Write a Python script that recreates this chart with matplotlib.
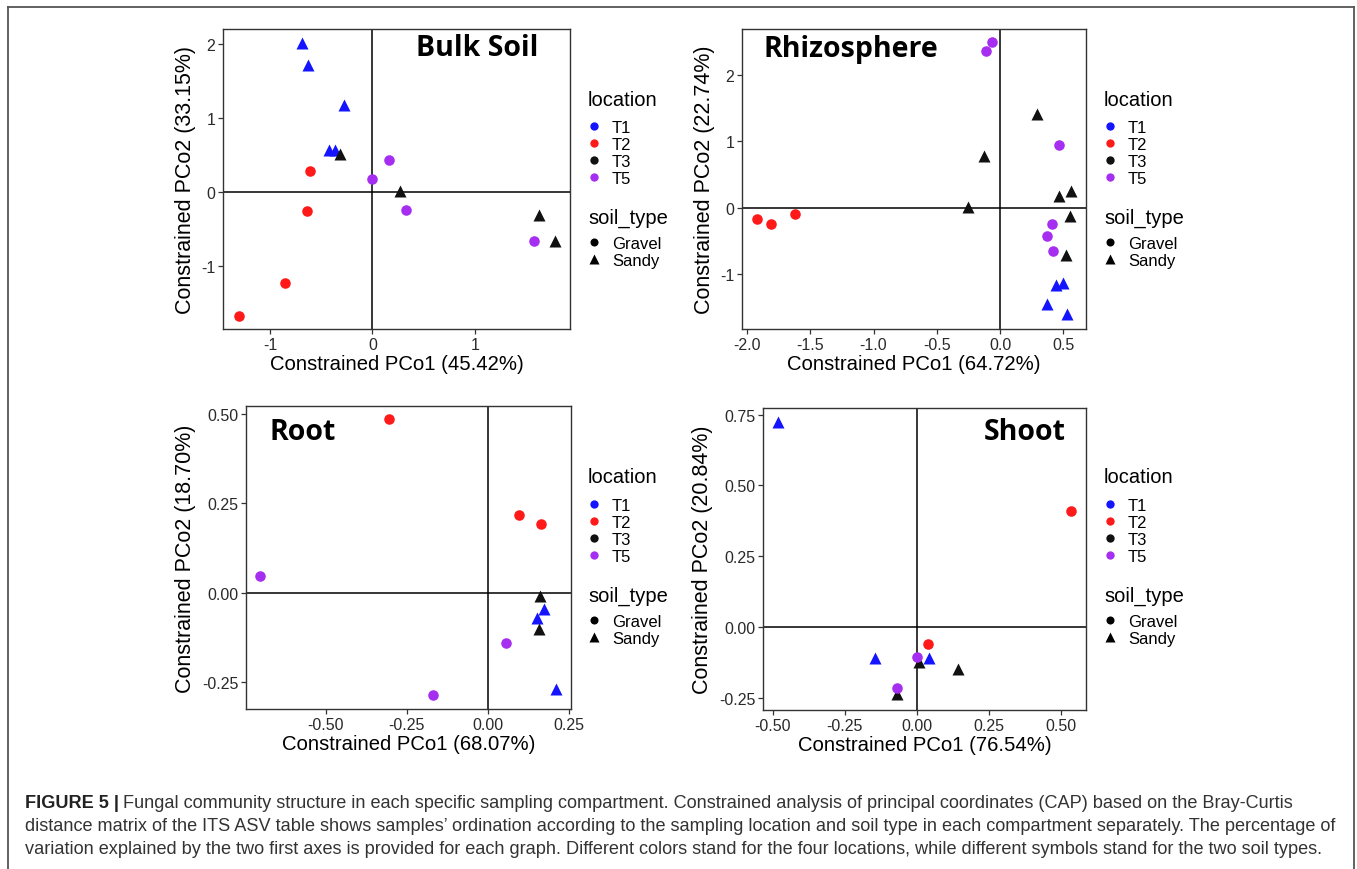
import matplotlib
matplotlib.use("Agg")
from matplotlib import pyplot as plt
from matplotlib.lines import Line2D

# colours by location, marker by soil type
LOC_COLORS = {"T1": "#1414ff", "T2": "#ff1a1a", "T3": "#111111", "T5": "#a52ef0"}
SOIL_MARKERS = {"Gravel": "o", "Sandy": "^"}
LOCATIONS = ["T1", "T2", "T3", "T5"]
SOILS = ["Gravel", "Sandy"]

# Bulk Soil
bulk_x = [-0.69, -0.63, -0.28, -0.42, -0.37, -0.32, 0.27, 1.63, 1.78,
          -0.61, -0.64, -0.85, -1.30, 0.16, 0.00, 0.33, 1.58]
bulk_y = [2.02, 1.72, 1.18, 0.57, 0.57, 0.52, 0.01, -0.32, -0.67,
          0.28, -0.26, -1.24, -1.69, 0.43, 0.17, -0.24, -0.66]
bulk_loc = ["T1", "T1", "T1", "T1", "T1", "T3", "T3", "T3", "T3",
            "T2", "T2", "T2", "T2", "T5", "T5", "T5", "T5"]

# Rhizosphere
rhizo_x = [-0.06, -0.11, 0.47, 0.41, 0.37, 0.42,
           0.29, -0.13, 0.47, 0.56, -0.25, 0.55, 0.52,
           0.44, 0.50, 0.37, 0.53,
           -1.92, -1.81, -1.62]
rhizo_y = [2.50, 2.36, 0.94, -0.25, -0.43, -0.65,
           1.41, 0.78, 0.17, 0.25, 0.01, -0.13, -0.72,
           -1.17, -1.14, -1.45, -1.61,
           -0.17, -0.25, -0.10]
rhizo_loc = ["T5", "T5", "T5", "T5", "T5", "T5",
             "T3", "T3", "T3", "T3", "T3", "T3", "T3",
             "T1", "T1", "T1", "T1",
             "T2", "T2", "T2"]

# Root
root_x = [-0.305, 0.098, 0.165, -0.702, 0.057, -0.169,
          0.162, 0.159, 0.175, 0.152, 0.212]
root_y = [0.485, 0.218, 0.191, 0.046, -0.140, -0.286,
          -0.008, -0.102, -0.044, -0.071, -0.268]
root_loc = ["T2", "T2", "T2", "T5", "T5", "T5",
            "T3", "T3", "T1", "T1", "T1"]

# Shoot
shoot_x = [-0.483, -0.145, 0.043, 0.536, 0.040, 0.000, -0.068,
           0.008, 0.143, -0.068]
shoot_y = [0.724, -0.108, -0.108, 0.409, -0.060, -0.105, -0.213,
           -0.121, -0.148, -0.235]
shoot_loc = ["T1", "T1", "T1", "T2", "T2", "T5", "T5",
             "T3", "T3", "T3"]

# soil type follows location in this dataset
SOIL_OF = {"T1": "Sandy", "T3": "Sandy", "T2": "Gravel", "T5": "Gravel"}

W, H = 1357, 870


def px_box(left, top, right, bottom):
    return [left / W, 1 - bottom / H, (right - left) / W, (bottom - top) / H]


def fy(y):
    return 1 - y / H


def draw_panel(fig, box, xs, ys, locs, xlim, ylim, xticks, yticks, xfmt, yfmt,
               xlabel, ylabel, name, name_xy, leg_x, leg_y):
    ax = fig.add_axes(px_box(*box))
    ax.axhline(0, color="black", lw=1.1, zorder=1)
    ax.axvline(0, color="black", lw=1.1, zorder=1)
    for loc in LOCATIONS:
        for soil in SOILS:
            px = [x for x, l in zip(xs, locs) if l == loc and SOIL_OF[l] == soil]
            py = [y for y, l in zip(ys, locs) if l == loc and SOIL_OF[l] == soil]
            if not px:
                continue
            ms = 8.6 if soil == "Sandy" else 7.6
            ax.plot(px, py, linestyle="none", marker=SOIL_MARKERS[soil],
                    ms=ms, color=LOC_COLORS[loc], mec="none", zorder=3)
    ax.set_xlim(*xlim)
    ax.set_ylim(*ylim)
    ax.set_xticks(xticks)
    ax.set_yticks(yticks)
    ax.set_xticklabels([xfmt.format(v) for v in xticks])
    ax.set_yticklabels([yfmt.format(v) for v in yticks])
    for s in ax.spines.values():
        s.set_color("#333333")
        s.set_linewidth(1.0)
    ax.tick_params(length=3.5, width=0.9, color="#333333", labelsize=11.5,
                   labelcolor="#2a2a2a", pad=2)
    ax.set_xlabel(xlabel, fontsize=14.6, labelpad=2)
    ax.set_ylabel(ylabel, fontsize=15.5, labelpad=4)

    fig.text(name_xy[0] / W, fy(name_xy[1]), name, family="Open Sans",
             fontweight="bold", fontsize=20.5, ha="left", va="center")

    # legend titles as plain text, entries as legends
    fig.text((leg_x + 2) / W, fy(leg_y), "location", fontsize=14.5,
             ha="left", va="center")
    fig.text((leg_x + 2) / W, fy(leg_y + 118), "soil_type", fontsize=14.5,
             ha="left", va="center")
    loc_handles = [Line2D([], [], linestyle="none", marker="o", ms=6,
                          color=LOC_COLORS[l], mec="none") for l in LOCATIONS]
    soil_handles = [Line2D([], [], linestyle="none", marker=SOIL_MARKERS[s],
                           ms=7 if s == "Sandy" else 5.8, color="black", mec="none")
                    for s in SOILS]
    common = dict(loc="upper left", bbox_transform=fig.transFigure, frameon=False,
                  fontsize=12, borderpad=0, borderaxespad=0,
                  handlelength=1.0, handletextpad=0.55, labelspacing=0.12)
    lg1 = ax.legend(loc_handles, LOCATIONS,
                    bbox_to_anchor=(leg_x / W, fy(leg_y + 21)), **common)
    ax.add_artist(lg1)
    ax.legend(soil_handles, SOILS,
              bbox_to_anchor=(leg_x / W, fy(leg_y + 137)), **common)
    return ax


plt.rcParams["font.family"] = ["Liberation Sans", "DejaVu Sans"]
fig = plt.figure(figsize=(W / 100, H / 100), dpi=100)

draw_panel(fig, (223, 30, 570, 330), bulk_x, bulk_y, bulk_loc,
           (-1.46, 1.93), (-1.86, 2.21), [-1, 0, 1], [-1, 0, 1, 2],
           "{:g}", "{:g}",
           "Constrained PCo1 (45.42%)", "Constrained PCo2 (33.15%)",
           "Bulk Soil", (416, 48), 586, 100)
draw_panel(fig, (742, 30, 1086, 330), rhizo_x, rhizo_y, rhizo_loc,
           (-2.04, 0.68), (-1.83, 2.69), [-2.0, -1.5, -1.0, -0.5, 0.0, 0.5],
           [-1, 0, 1, 2], "{:.1f}", "{:g}",
           "Constrained PCo1 (64.72%)", "Constrained PCo2 (22.74%)",
           "Rhizosphere", (764, 50), 1102, 100)
draw_panel(fig, (246, 407, 571, 710), root_x, root_y, root_loc,
           (-0.746, 0.257), (-0.324, 0.521), [-0.5, -0.25, 0.0, 0.25],
           [-0.25, 0.0, 0.25, 0.5], "{:.2f}", "{:.2f}",
           "Constrained PCo1 (68.07%)", "Constrained PCo2 (18.70%)",
           "Root", (269, 433), 586, 478)
draw_panel(fig, (763, 409, 1086, 711), shoot_x, shoot_y, shoot_loc,
           (-0.534, 0.587), (-0.292, 0.773), [-0.5, -0.25, 0.0, 0.25, 0.5],
           [-0.25, 0.0, 0.25, 0.5, 0.75], "{:.2f}", "{:.2f}",
           "Constrained PCo1 (76.54%)", "Constrained PCo2 (20.84%)",
           "Shoot", (984, 433), 1102, 478)

# outer frame (open at bottom)
frame = dict(color="#555555", lw=1.3, transform=fig.transFigure)
fig.add_artist(Line2D([8 / W, 8 / W], [0, fy(8)], **frame))
fig.add_artist(Line2D([8 / W, 1354 / W], [fy(8), fy(8)], **frame))
fig.add_artist(Line2D([1354 / W, 1354 / W], [0, fy(8)], **frame))

# caption
cap_lines = [
    "Fungal community structure in each specific sampling compartment. "
    "Constrained analysis of principal coordinates (CAP) based on the Bray-Curtis",
    "distance matrix of the ITS ASV table shows samples\u2019 ordination according to "
    "the sampling location and soil type in each compartment separately. The percentage of",
    "variation explained by the two first axes is provided for each graph. Different "
    "colors stand for the four locations, while different symbols stand for the two soil types.",
]
cap_y = [804, 827, 850]
cap_size = 13.05
head = fig.text(25 / W, fy(cap_y[0]), "FIGURE 5 |", fontsize=cap_size,
                fontweight="bold", color="#222222", va="center", ha="left")
fig.canvas.draw()
bb = head.get_window_extent()
fig.text((bb.x1 + 4) / W, fy(cap_y[0]), cap_lines[0], fontsize=cap_size,
         color="#333333", va="center", ha="left")
for txt, yy in zip(cap_lines[1:], cap_y[1:]):
    fig.text(25 / W, fy(yy), txt, fontsize=cap_size, color="#333333",
             va="center", ha="left")

fig.savefig("out.png", dpi=100, facecolor="white")
